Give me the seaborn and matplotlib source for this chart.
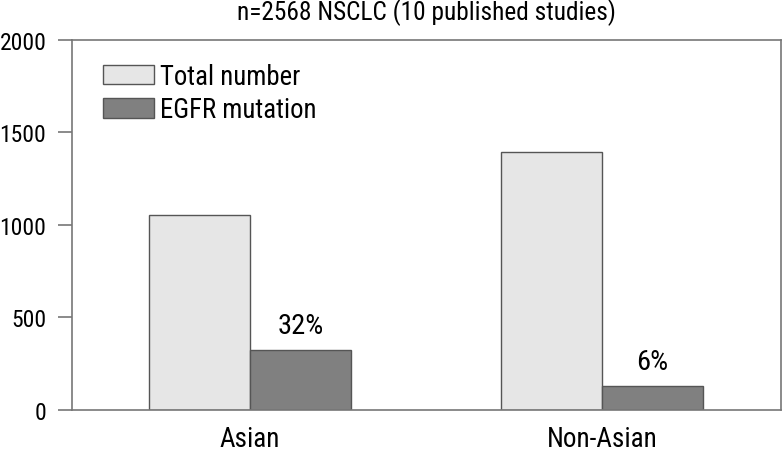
import matplotlib
matplotlib.use("Agg")
import matplotlib.pyplot as plt
import seaborn as sns
import pandas as pd
from matplotlib.patches import Patch

categories = ["Asian", "Non-Asian"]
total_number = [1053, 1394]
egfr_mutation = [323, 130]
pct_labels = ["32%", "6%"]
series_names = ["Total number", "EGFR mutation"]
yticks = [0, 500, 1000, 1500, 2000]
title = "n=2568 NSCLC (10 published studies)"

sns.set_theme(style="white")
plt.rcParams["font.family"] = ["Roboto Condensed", "DejaVu Sans"]
plt.rcParams["text.color"] = "#000000"
plt.rcParams["xtick.color"] = "#000000"
plt.rcParams["ytick.color"] = "#000000"

df = pd.DataFrame({
    "group": categories * 2,
    "series": [series_names[0]] * 2 + [series_names[1]] * 2,
    "value": total_number + egfr_mutation,
})

colors = {"Total number": "#e6e6e6", "EGFR mutation": "#808080"}
edge = "#555555"

fig = plt.figure(figsize=(7.82, 4.52), dpi=100)
ax = fig.add_axes([72 / 782, 1 - 410.7 / 452, (781 - 72) / 782, (410.7 - 41) / 452])

sns.barplot(data=df, x="group", y="value", hue="series", hue_order=series_names,
            palette=colors, width=0.574, gap=0, edgecolor=edge, linewidth=1.0,
            saturation=1, ax=ax, legend=False)

ax.set_xlim(-0.506, 1.508)
ax.set_ylim(0, 2000)
ax.set_yticks(yticks)
ax.set_xlabel("")
ax.set_ylabel("")

for s in ax.spines.values():
    s.set_color("#777777")
    s.set_linewidth(1.2)

ax.tick_params(axis="y", length=10, width=1.2, color="#777777", pad=8.5, labelsize=17, left=True)
ax.tick_params(axis="x", length=0, pad=11, labelsize=19.5)

ax.bar_label(ax.containers[1], labels=pct_labels, padding=8, fontsize=20.5)

ax.set_title(title, fontsize=18.3, pad=15)

handles = [Patch(facecolor=colors[n], edgecolor=edge, linewidth=1.0, label=n) for n in series_names]
ax.legend(handles=handles, loc="upper left", bbox_to_anchor=(103 / 782, 1 - 64 / 452),
          bbox_transform=fig.transFigure, frameon=False, fontsize=19.3,
          handlelength=1.9, handleheight=0.75, handletextpad=0.22,
          labelspacing=0.235, borderpad=0, borderaxespad=0)

fig.savefig("out.png", dpi=100)
